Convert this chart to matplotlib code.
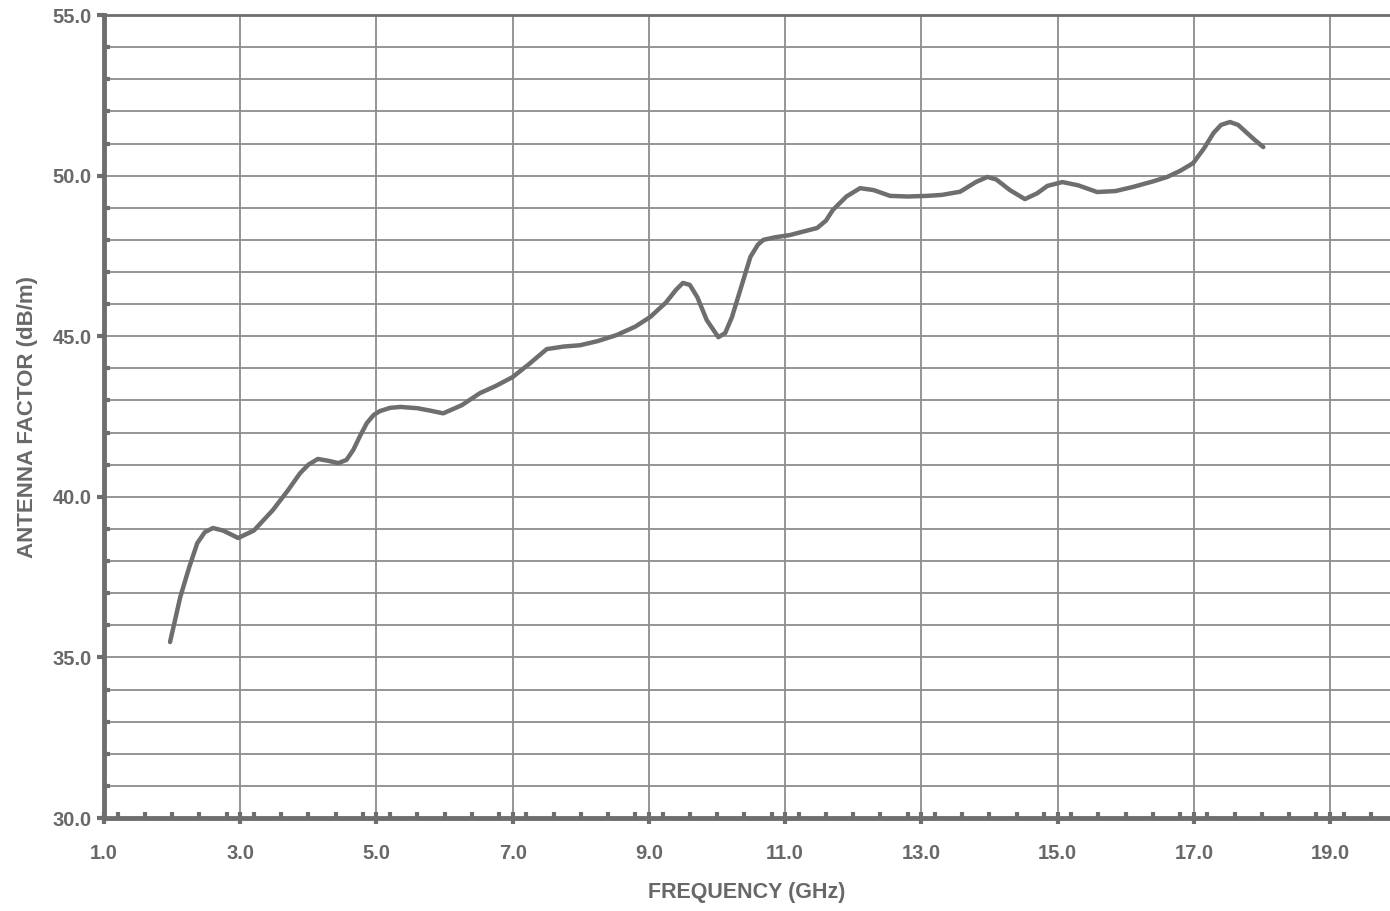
import matplotlib
matplotlib.use('Agg')
from matplotlib import pyplot as plt
from matplotlib.ticker import MultipleLocator, FixedLocator

# antenna factor curve
freq_ghz = [1.97, 2.12, 2.25, 2.37, 2.48, 2.60, 2.75, 2.97, 3.20, 3.48, 3.70, 3.88,
            4.00, 4.14, 4.30, 4.44, 4.56, 4.66, 4.76, 4.86, 4.96, 5.05, 5.20, 5.35,
            5.60, 5.80, 5.98, 6.25, 6.52, 6.75, 7.00, 7.25, 7.50, 7.75, 7.99, 8.25,
            8.53, 8.80, 9.02, 9.25, 9.40, 9.50, 9.60, 9.71, 9.85, 10.02, 10.12, 10.22,
            10.35, 10.49, 10.60, 10.68, 10.85, 11.07, 11.25, 11.47, 11.60, 11.70, 11.90,
            12.10, 12.30, 12.54, 12.80, 13.08, 13.30, 13.57, 13.80, 13.97, 14.10, 14.30,
            14.52, 14.70, 14.85, 15.07, 15.30, 15.58, 15.85, 16.11, 16.40, 16.61, 16.80,
            16.99, 17.15, 17.29, 17.40, 17.53, 17.65, 17.78, 17.90, 18.02]
af_dbm = [35.48, 36.88, 37.80, 38.56, 38.90, 39.03, 38.95, 38.72, 38.95, 39.59, 40.20, 40.74,
          41.00, 41.18, 41.12, 41.05, 41.15, 41.46, 41.90, 42.30, 42.55, 42.67, 42.77, 42.80,
          42.76, 42.68, 42.60, 42.85, 43.23, 43.45, 43.73, 44.15, 44.60, 44.68, 44.72, 44.85,
          45.04, 45.30, 45.60, 46.05, 46.45, 46.66, 46.60, 46.22, 45.50, 44.97, 45.10, 45.60,
          46.50, 47.47, 47.85, 48.00, 48.08, 48.15, 48.25, 48.37, 48.60, 48.93, 49.35,
          49.61, 49.55, 49.37, 49.35, 49.37, 49.40, 49.50, 49.80, 49.96, 49.88, 49.55,
          49.27, 49.45, 49.68, 49.80, 49.70, 49.49, 49.52, 49.65, 49.82, 49.96, 50.15,
          50.39, 50.85, 51.33, 51.58, 51.67, 51.58, 51.33, 51.10, 50.89]

x_major = [1, 3, 5, 7, 9, 11, 13, 15, 17, 19]
x_labels = ['1.0', '3.0', '5.0', '7.0', '9.0', '11.0', '13.0', '15.0', '17.0', '19.0']
y_major = [30, 35, 40, 45, 50, 55]
y_labels = ['30.0', '35.0', '40.0', '45.0', '50.0', '55.0']

ink = '#6e6e6e'
txt = '#686868'
plt.rcParams['font.family'] = ['Liberation Sans', 'DejaVu Sans']

fig = plt.figure(figsize=(13.9, 9.11), dpi=100)
ax = fig.add_axes([0.0748, 0.102, 0.9252, 0.8815])

# grid: every dB horizontally, every 2 GHz vertically
for y in range(31, 55):
    ax.axhline(y, color='#8c8c8c', lw=1.3, zorder=1)
for x in x_major[1:]:
    ax.axvline(x, color='#8c8c8c', lw=1.3, zorder=1)

ax.plot(freq_ghz, af_dbm, color=ink, lw=3.2, solid_joinstyle='round',
        solid_capstyle='round', zorder=3)

ax.set_xlim(1.0, 19.88)
ax.set_ylim(30.0, 55.0)

ax.xaxis.set_major_locator(FixedLocator(x_major))
ax.set_xticklabels(x_labels, fontweight='bold')
ax.xaxis.set_minor_locator(MultipleLocator(0.4))
ax.yaxis.set_major_locator(FixedLocator(y_major))
ax.set_yticklabels(y_labels, fontweight='bold')
ax.yaxis.set_minor_locator(MultipleLocator(1))

ax.tick_params(axis='x', which='major', direction='inout', length=9, width=3,
               color=ink, labelsize=14.5, labelcolor=txt, pad=14)
ax.tick_params(axis='x', which='minor', direction='in', length=4, width=3, color=ink)
ax.tick_params(axis='y', which='major', direction='out', length=5, width=3,
               color=ink, labelsize=14.5, labelcolor=txt, pad=4)
ax.tick_params(axis='y', which='minor', direction='in', length=4, width=3, color=ink)

ax.spines['left'].set_linewidth(3.5)
ax.spines['bottom'].set_linewidth(3.5)
ax.spines['top'].set_linewidth(2.0)
ax.spines['right'].set_visible(False)
for s in ['left', 'bottom', 'top']:
    ax.spines[s].set_color(ink)

ax.set_xlabel('FREQUENCY (GHz)', fontsize=15.5, fontweight='bold', color=txt, labelpad=14)
ax.set_ylabel('ANTENNA FACTOR (dB/m)', fontsize=16, fontweight='bold', color=txt, labelpad=10)

fig.savefig('out.png', dpi=100)
plt.close(fig)
